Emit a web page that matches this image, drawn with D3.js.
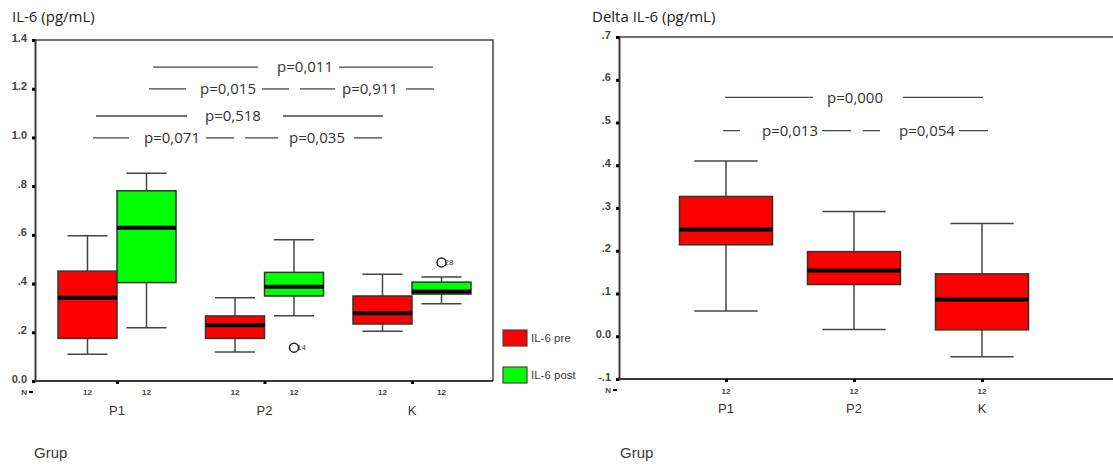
<!DOCTYPE html>
<html><head><meta charset="utf-8">
<script src="https://cdn.jsdelivr.net/npm/d3@7"></script>
<style>body{margin:0;background:#fff}svg{display:block}</style>
</head><body><svg id="c" width="1113" height="464"></svg>
<script>
// ---------- DATA ----------
const groups = ["P1", "P2", "K"];
const counts = [12, 12, 12];
// Left: IL-6 pre / post  [whiskerLow, q1, median, q3, whiskerHigh]
const il6Pre  = [[0.110,0.175,0.342,0.451,0.596],[0.119,0.175,0.229,0.267,0.342],[0.204,0.234,0.278,0.349,0.438]];
const il6Post = [[0.219,0.404,0.629,0.781,0.853],[0.268,0.349,0.387,0.446,0.580],[0.317,0.357,0.367,0.406,0.427]];
const il6Outliers = [{g:"P2", s:"post", v:0.137, id:"14"}, {g:"K", s:"post", v:0.487, id:"28"}];
const leftTicks = [0,0.2,0.4,0.6,0.8,1.0,1.2,1.4];
const leftTickLabels = ["0.0",".2",".4",".6",".8","1.0","1.2","1.4"];
// Right: Delta IL-6
const deltaIl6 = [[0.059,0.214,0.250,0.327,0.410],[0.016,0.121,0.154,0.198,0.292],[-0.048,0.015,0.086,0.146,0.264]];
const rightTicks = [-0.1,0,0.1,0.2,0.3,0.4,0.5,0.6,0.7];
const rightTickLabels = ["-.1","0.0",".1",".2",".3",".4",".5",".6",".7"];
// p-value annotations: label, y level, text centre and segments in group-index units
const leftP = [
  {t:"p=0,011", y:1.289, c:1.275, l:[0.244,0.956], r:[1.505,2.142]},
  {t:"p=0,015", y:1.199, c:0.753, l:[0.217,0.468], r:[0.983,1.166]},
  {t:"p=0,911", y:1.199, c:1.715, l:[1.241,1.478], r:[1.959,2.149]},
  {t:"p=0,518", y:1.088, c:0.786, l:[-0.142,0.475], r:[1.125,1.803]},
  {t:"p=0,071", y:0.998, c:0.373, l:[-0.163,0.081], r:[0.603,0.793]},
  {t:"p=0,035", y:0.998, c:1.356, l:[0.868,1.092], r:[1.607,1.797]}
];
const rightP = [
  {t:"p=0,000", y:0.559, c:1.008, l:[-0.008,0.68], r:[1.383,2.008]},
  {t:"p=0,013", y:0.481, c:0.5,   l:[-0.023,0.109], r:[0.75,0.977]},
  {t:"p=0,054", y:0.481, c:1.57,  l:[1.07,1.203], r:[1.82,2.047]}
];
const legendItems = [{label:"IL-6 pre", color:"#ff0000"}, {label:"IL-6 post", color:"#00ff00"}];

// ---------- DRAW ----------
const svg = d3.select("#c");
const ink = "#3a3a3a";
const tickFont = "'Liberation Sans', Arial, sans-serif";
const calFont = "'Open Sans', sans-serif";

function drawPanel(o) {
  const g = svg.append("g");
  const y = d3.scaleLinear().domain(o.yDomain).range([o.bottom, o.top]);
  const x = d3.scalePoint().domain(groups).range(o.xRange);
  const xi = d3.scaleLinear().domain([0, 2]).range(o.xRange);

  g.append("text").attr("x", o.titleX).attr("y", 22).text(o.title)
    .attr("font-family", calFont).attr("font-size", 15).attr("fill", "#222");

  g.append("path").attr("d", `M${o.left},${o.top}H${o.right}V${o.bottom}`)
    .attr("fill","none").attr("stroke", "#444").attr("stroke-width", 1.5);

  const ya = d3.axisLeft(y).tickValues(o.ticks).tickFormat((d,i)=>o.tickLabels[i]).tickSize(3).tickPadding(5);
  const yg = g.append("g").attr("transform", `translate(${o.left},0)`).call(ya);
  yg.select(".domain").attr("stroke", ink).attr("stroke-width", 2);
  yg.selectAll(".tick line").attr("stroke", "#000").attr("stroke-width", 3);
  yg.selectAll(".tick text").attr("font-family", tickFont).attr("font-size", 11).attr("font-weight", "bold")
    .attr("fill", "#444").attr("dy", "0.1em");

  const xa = d3.axisBottom(x).tickFormat("").tickSize(3);
  const xg = g.append("g").attr("transform", `translate(0,${o.bottom})`).call(xa);
  xg.select(".domain").attr("d", `M${o.left},0H${o.right}`).attr("stroke", ink).attr("stroke-width", 2);
  xg.selectAll(".tick line").attr("stroke", "#000").attr("stroke-width", 3);

  g.append("text").attr("x", o.left - 8).attr("y", o.bottom + 14).text("N")
    .attr("font-family", tickFont).attr("font-size", 8).attr("font-weight", "bold").attr("fill", "#444").attr("text-anchor", "end");
  g.append("line").attr("x1", o.left - 6).attr("x2", o.left - 2).attr("y1", o.bottom + 11).attr("y2", o.bottom + 11)
    .attr("stroke", "#000").attr("stroke-width", 2);

  groups.forEach((gr) => {
    g.append("text").attr("x", x(gr)).attr("y", o.bottom + 34).text(gr)
      .attr("font-family", tickFont).attr("font-size", 13).attr("fill", "#333").attr("text-anchor", "middle");
  });

  g.append("text").attr("x", o.grupX).attr("y", 458).text("Grup")
    .attr("font-family", tickFont).attr("font-size", 15).attr("fill", ink);

  o.pvals.forEach(p => {
    const yy = y(p.y);
    [p.l, p.r].forEach(seg => g.append("line").attr("x1", xi(seg[0])).attr("x2", xi(seg[1]))
      .attr("y1", yy).attr("y2", yy).attr("stroke", "#444").attr("stroke-width", 1.3));
    g.append("text").attr("x", xi(p.c)).attr("y", yy).attr("dy", "0.35em").text(p.t)
      .attr("font-family", calFont).attr("font-size", 15).attr("fill", "#333").attr("text-anchor", "middle");
  });

  return {g, x, y};
}

function drawBox(g, cx, w, s, y, color) {
  const capW = w * 0.68;
  const [lo, q1, med, q3, hi] = s;
  g.append("line").attr("x1", cx).attr("x2", cx).attr("y1", y(hi)).attr("y2", y(lo))
    .attr("stroke", "#444").attr("stroke-width", 1.5);
  [lo, hi].forEach(v => g.append("line").attr("x1", cx - capW/2).attr("x2", cx + capW/2)
    .attr("y1", y(v)).attr("y2", y(v)).attr("stroke", "#444").attr("stroke-width", 1.5));
  g.append("rect").attr("x", cx - w/2).attr("width", w).attr("y", y(q3)).attr("height", y(q1) - y(q3))
    .attr("fill", color).attr("stroke", "#333").attr("stroke-width", 1.5);
  g.append("line").attr("x1", cx - w/2).attr("x2", cx + w/2).attr("y1", y(med)).attr("y2", y(med))
    .attr("stroke", "#000").attr("stroke-width", 4);
}

// LEFT PANEL
const L = drawPanel({
  title: "IL-6 (pg/mL)", titleX: 12, grupX: 34,
  left: 35, right: 493, top: 40, bottom: 381,
  yDomain: [0, 1.4], ticks: leftTicks, tickLabels: leftTickLabels,
  xRange: [117, 412], pvals: leftP
});
const bwL = 59;
groups.forEach((gr, i) => {
  const cx = L.x(gr);
  drawBox(L.g, cx - bwL/2, bwL, il6Pre[i], L.y, legendItems[0].color);
  drawBox(L.g, cx + bwL/2, bwL, il6Post[i], L.y, legendItems[1].color);
  [-1, 1].forEach(sgn => L.g.append("text").attr("x", cx + sgn*bwL/2).attr("y", 395).text(counts[i])
    .attr("font-family", tickFont).attr("font-size", 8).attr("font-weight", "bold").attr("fill", "#444").attr("text-anchor", "middle"));
});
il6Outliers.forEach(o => {
  const cx = L.x(o.g) + (o.s === "post" ? bwL/2 : -bwL/2);
  L.g.append("text").attr("x", cx + 3).attr("y", L.y(o.v)).attr("dy", "0.35em").text(o.id)
    .attr("font-family", tickFont).attr("font-size", 8).attr("fill", ink);
  L.g.append("circle").attr("cx", cx).attr("cy", L.y(o.v)).attr("r", 4.5)
    .attr("fill", "#fff").attr("stroke", "#222").attr("stroke-width", 1.5);
});
const lg = svg.append("g");
legendItems.forEach((d, i) => {
  lg.append("rect").attr("x", 503).attr("y", 330 + i*37).attr("width", 24).attr("height", 16)
    .attr("fill", d.color).attr("stroke", "#444").attr("stroke-width", 1.2);
  lg.append("text").attr("x", 531).attr("y", 338 + i*37).attr("dy", "0.35em").text(d.label)
    .attr("font-family", tickFont).attr("font-size", 11.5).attr("fill", ink);
});

// RIGHT PANEL
const R = drawPanel({
  title: "Delta IL-6 (pg/mL)", titleX: 592, grupX: 620,
  left: 619, right: 1125, top: 37, bottom: 379,
  yDomain: [-0.1, 0.7], ticks: rightTicks, tickLabels: rightTickLabels,
  xRange: [726, 982], pvals: rightP
});
const bwR = 93;
groups.forEach((gr, i) => {
  const cx = R.x(gr);
  drawBox(R.g, cx, bwR, deltaIl6[i], R.y, legendItems[0].color);
  R.g.append("text").attr("x", cx).attr("y", 394).text(counts[i])
    .attr("font-family", tickFont).attr("font-size", 8).attr("font-weight", "bold").attr("fill", "#444").attr("text-anchor", "middle");
});
</script></body></html>
